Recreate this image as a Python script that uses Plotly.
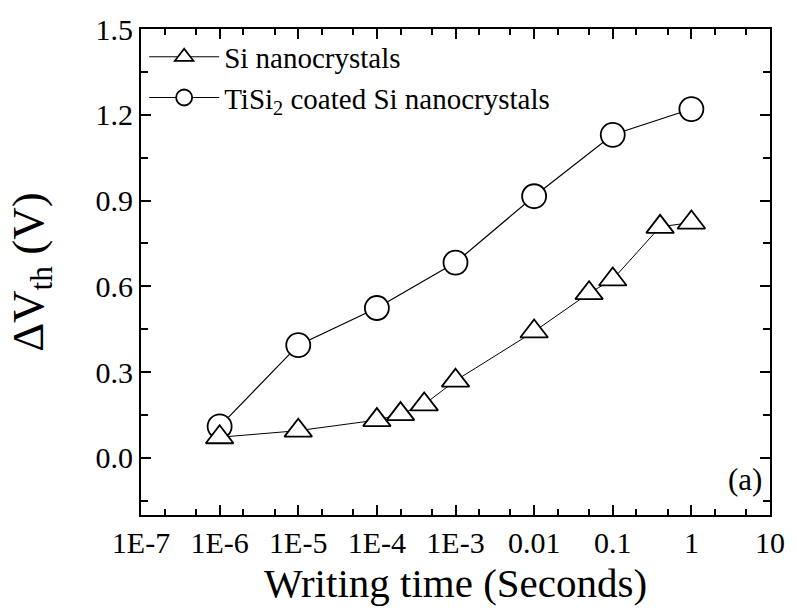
import plotly.graph_objects as go

# Writing time (s) and threshold-voltage shift (V)
si_time = [1e-6, 1e-5, 1e-4, 2e-4, 4e-4, 1e-3, 1e-2, 5e-2, 1e-1, 4e-1, 1.0]
si_dvth = [0.072, 0.095, 0.132, 0.153, 0.187, 0.270, 0.442, 0.576, 0.624, 0.808, 0.823]

tisi_time = [1e-6, 1e-5, 1e-4, 1e-3, 1e-2, 1e-1, 1.0]
tisi_dvth = [0.110, 0.394, 0.524, 0.683, 0.915, 1.130, 1.220]

x_tickvals = [1e-7, 1e-6, 1e-5, 1e-4, 1e-3, 1e-2, 1e-1, 1, 10]
x_ticktext = ["1E-7", "1E-6", "1E-5", "1E-4", "1E-3", "0.01", "0.1", "1", "10"]
y_tickvals = [0.0, 0.3, 0.6, 0.9, 1.2, 1.5]

FONT = "Liberation Serif"

fig = go.Figure()

# circles first so the triangles sit on top where they overlap
fig.add_trace(go.Scatter(
    x=tisi_time, y=tisi_dvth, mode="lines+markers",
    name="TiSi<sub>2</sub> coated Si nanocrystals",
    legendrank=2, legendgroup="b",
    line=dict(color="black", width=1.2),
    marker=dict(symbol="circle", size=24, color="white",
                line=dict(color="black", width=1.8)),
))
fig.add_trace(go.Scatter(
    x=si_time, y=si_dvth, mode="lines+markers",
    name="Si nanocrystals",
    legendrank=1, legendgroup="a",
    line=dict(color="black", width=1.0),
    marker=dict(symbol="triangle-up", size=24, color="white",
                line=dict(color="black", width=1.8)),
))

axis_common = dict(
    showline=True, linecolor="black", linewidth=2,
    mirror="ticks", ticks="inside", tickcolor="black", tickwidth=2,
    showgrid=False, zeroline=False,
    tickfont=dict(family=FONT, size=30, color="black"),
)

fig.update_xaxes(
    type="log", range=[-7, 1],
    tickvals=x_tickvals, ticktext=x_ticktext, ticklen=10,
    minor=dict(ticks="inside", ticklen=6, tickwidth=1.5, tickcolor="black",
               showgrid=False),
    title=dict(text="Writing time (Seconds)",
               font=dict(family=FONT, size=41, color="black"), standoff=10),
    **axis_common,
)
fig.update_yaxes(
    range=[-0.2, 1.5], tickvals=y_tickvals, tickformat=".1f", ticklen=10,
    minor=dict(ticks="inside", ticklen=7, tickwidth=2, tickcolor="black",
               dtick=0.15, tick0=0, showgrid=False),
    title=dict(text="ΔV<sub>th</sub> (V)",
               font=dict(family=FONT, size=45, color="black"), standoff=38),
    **axis_common,
)

fig.add_annotation(
    text="(a)", xref="paper", yref="paper", x=1, y=0,
    xanchor="right", yanchor="bottom", xshift=-6, yshift=16,
    showarrow=False, font=dict(family=FONT, size=31, color="black"),
)

fig.update_layout(
    width=797, height=610,
    margin=dict(l=141, r=18, t=20, b=95),
    paper_bgcolor="white", plot_bgcolor="white",
    showlegend=True,
    legend=dict(x=0.005, y=0.995, xanchor="left", yanchor="top",
                bgcolor="rgba(0,0,0,0)", tracegroupgap=0,
                font=dict(family=FONT, size=29, color="black"),
                itemwidth=70),
)

fig.write_html("out.html")
